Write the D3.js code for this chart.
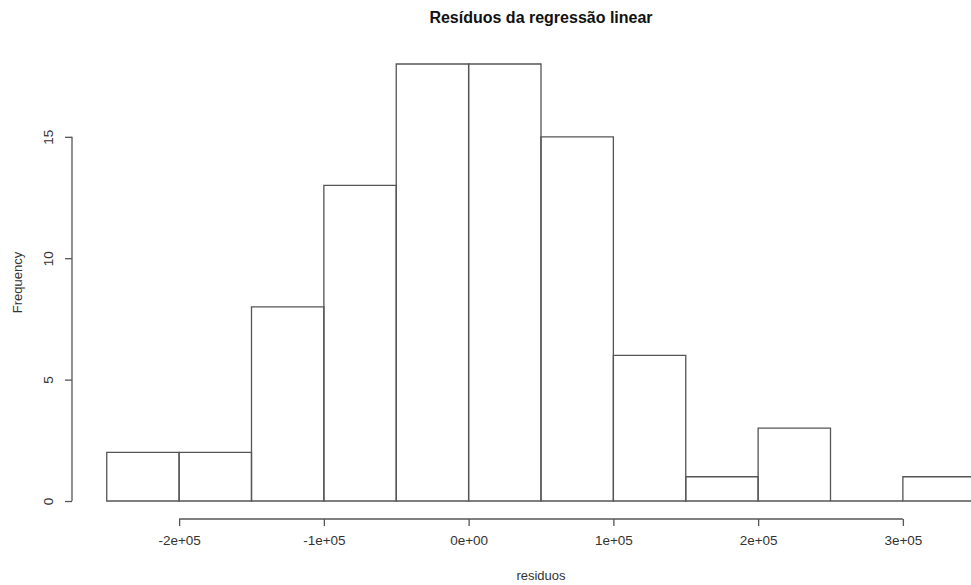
<!DOCTYPE html>
<html>
<head>
<meta charset="utf-8">
<script src="https://cdn.jsdelivr.net/npm/d3@7"></script>
<style>
  body { margin: 0; background: #fff; }
  text { font-family: "Liberation Sans", Arial, sans-serif; fill: #333; }
</style>
</head>
<body>
<svg id="chart" width="971" height="585"></svg>
<script>
// histogram bins (break points) and counts
var breaks = [-250000, -200000, -150000, -100000, -50000, 0, 50000, 100000, 150000, 200000, 250000, 300000, 350000];
var counts = [2, 2, 8, 13, 18, 18, 15, 6, 1, 3, 0, 1];
var xTicks = [-200000, -100000, 0, 100000, 200000, 300000];
var xTickLabels = ["-2e+05", "-1e+05", "0e+00", "1e+05", "2e+05", "3e+05"];
var yTicks = [0, 5, 10, 15];

var svg = d3.select("#chart");
var lineCol = "#555";

// R style plot region: data range padded by 4%
var xScale = d3.scaleLinear()
  .domain([-274000, 374000])
  .range([72, 1010]);

var yScale = d3.scaleLinear()
  .domain([-0.72, 18.72])
  .range([518.5, 46.5]);

var bins = counts.map(function(c, i) {
  return {x0: breaks[i], x1: breaks[i + 1], n: c};
});

// draw each bin as a closed path so empty bins still show their base line
svg.append("g").selectAll("path")
  .data(bins)
  .enter().append("path")
  .attr("d", function(d) {
    var x0 = xScale(d.x0), x1 = xScale(d.x1), y0 = yScale(0), y1 = yScale(d.n);
    return "M" + x0 + "," + y0 + "V" + y1 + "H" + x1 + "V" + y0 + "Z";
  })
  .attr("fill", "none")
  .attr("stroke", lineCol)
  .attr("stroke-width", 1.3);

// x axis, offset below the plot like R
var xAxis = d3.axisBottom(xScale)
  .tickValues(xTicks)
  .tickFormat((d, i) => xTickLabels[i])
  .tickSizeOuter(0)
  .tickSize(7)
  .tickPadding(9);

var gx = svg.append("g")
  .attr("transform", "translate(0,519)")
  .call(xAxis);
gx.select(".domain").remove();
gx.append("line")
  .attr("x1", xScale(xTicks[0])).attr("x2", xScale(xTicks[xTicks.length - 1]))
  .attr("stroke", lineCol).attr("stroke-width", 1.3);
gx.selectAll(".tick line").attr("stroke", lineCol).attr("stroke-width", 1.3);
gx.selectAll(".tick text")
  .style("font-size", "13.5px")
  .style("font-family", "Liberation Sans, Arial, sans-serif")
  .attr("fill", "#333");

// y axis
var yAxis = d3.axisLeft(yScale)
  .tickValues(yTicks)
  .tickSizeOuter(0)
  .tickSize(7);

var gy = svg.append("g")
  .attr("transform", "translate(72,0)")
  .call(yAxis);
gy.select(".domain").remove();
gy.append("line")
  .attr("y1", yScale(0)).attr("y2", yScale(15))
  .attr("stroke", lineCol).attr("stroke-width", 1.3);
gy.selectAll(".tick line").attr("stroke", lineCol).attr("stroke-width", 1.3);
gy.selectAll(".tick text")
  .attr("x", 0).attr("dy", 0)
  .attr("transform", "translate(-19,0) rotate(-90)")
  .attr("text-anchor", "middle")
  .style("font-size", "13.5px")
  .style("font-family", "Liberation Sans, Arial, sans-serif")
  .attr("fill", "#333");

// titles
svg.append("text")
  .attr("x", xScale(50000)).attr("y", 23)
  .attr("text-anchor", "middle")
  .style("font-size", "16px")
  .style("font-weight", "bold")
  .style("fill", "#111")
  .text("Resíduos da regressão linear");

svg.append("text")
  .attr("x", xScale(50000)).attr("y", 580)
  .attr("text-anchor", "middle")
  .style("font-size", "13px")
  .text("residuos");

svg.append("text")
  .attr("transform", "translate(22," + yScale(9) + ") rotate(-90)")
  .attr("text-anchor", "middle")
  .style("font-size", "13px")
  .text("Frequency");
</script>
</body>
</html>
